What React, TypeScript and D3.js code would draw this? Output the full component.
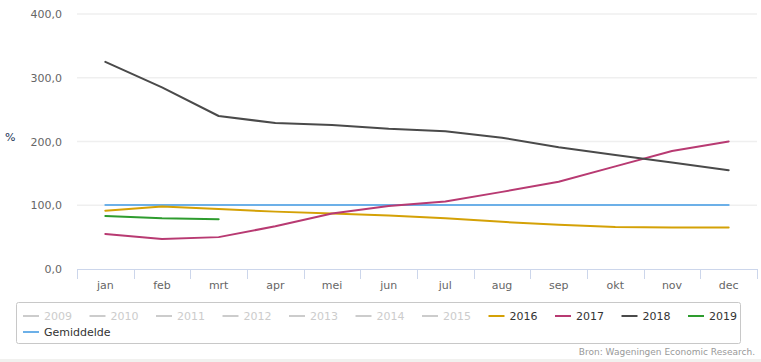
import React, { useEffect, useRef } from 'react';
import * as d3 from 'd3';

// Maanden (x-as)
const MONTHS = ['jan', 'feb', 'mrt', 'apr', 'mei', 'jun', 'jul', 'aug', 'sep', 'okt', 'nov', 'dec'];
const Y_TICKS = [0, 100, 200, 300, 400];

// Reeksen (% van gemiddelde)
const S2016 = [91.5, 98, 94, 90, 87, 84, 79.5, 74, 69.5, 66, 65, 65];
const S2017 = [55, 47, 50, 67, 87, 99, 106, 121, 137, 161, 185, 200];
const S2018 = [325, 285, 240, 229, 226, 220, 216, 206, 191, 179, 167, 155];
const S2019 = [83, 79.5, 78];
const GEMIDDELDE = [100.5, 100.5, 100.5, 100.5, 100.5, 100.5, 100.5, 100.5, 100.5, 100.5, 100.5, 100.5];

// Legenda
const HIDDEN_YEARS = ['2009', '2010', '2011', '2012', '2013', '2014', '2015'];
const SERIES = [
  { name: '2016', values: S2016, color: '#d4a106' },
  { name: '2017', values: S2017, color: '#b83a72' },
  { name: '2018', values: S2018, color: '#4a4a4a' },
  { name: '2019', values: S2019, color: '#2e9c2e' },
];
const AVG = { name: 'Gemiddelde', values: GEMIDDELDE, color: '#6cb0e8' };

const W = 761;
const H = 362;
const FONT = 'DejaVu Sans, Verdana, sans-serif';

export default function App() {
  const svgRef = useRef<SVGSVGElement>(null);

  useEffect(() => {
    if (!svgRef.current) return;
    const svg = d3.select(svgRef.current);
    svg.selectAll('*').remove();

    const plot = { left: 77, right: 757, top: 14, bottom: 269 };

    const x = d3.scaleBand<string>().domain(MONTHS).range([plot.left, plot.right]);
    const y = d3.scaleLinear().domain([0, 400]).range([plot.bottom, plot.top]);
    const cx = (i: number) => (x(MONTHS[i]) as number) + x.bandwidth() / 2;

    svg.append('rect').attr('width', W).attr('height', H).attr('fill', '#ffffff');
    svg.append('rect').attr('x', 0).attr('y', 359).attr('width', W).attr('height', 3).attr('fill', '#f1f1ef');

    // Rasterlijnen
    svg.append('g')
      .selectAll('line')
      .data(Y_TICKS.filter(d => d > 0))
      .enter()
      .append('line')
      .attr('x1', plot.left)
      .attr('x2', plot.right)
      .attr('y1', d => y(d))
      .attr('y2', d => y(d))
      .attr('stroke', '#efefef')
      .attr('stroke-width', 1.5);

    // Y-as labels
    svg.append('g')
      .selectAll('text')
      .data(Y_TICKS)
      .enter()
      .append('text')
      .attr('x', 62)
      .attr('y', d => y(d) + 4)
      .attr('text-anchor', 'end')
      .attr('fill', '#666666')
      .attr('font-size', '11px')
      .attr('font-family', FONT)
      .text(d => d3.format('.1f')(d).replace('.', ','));

    svg.append('text')
      .attr('x', 5)
      .attr('y', 141)
      .attr('fill', '#1d3557')
      .attr('font-size', '11px')
      .attr('font-family', FONT)
      .text('%');

    // X-as
    svg.append('line')
      .attr('x1', plot.left)
      .attr('x2', plot.right)
      .attr('y1', plot.bottom + 0.5)
      .attr('y2', plot.bottom + 0.5)
      .attr('stroke', '#ccd6eb');

    const tickX = MONTHS.map(m => x(m) as number).concat([plot.right]);
    svg.append('g')
      .selectAll('line')
      .data(tickX)
      .enter()
      .append('line')
      .attr('x1', d => Math.round(d) + 0.5)
      .attr('x2', d => Math.round(d) + 0.5)
      .attr('y1', plot.bottom)
      .attr('y2', plot.bottom + 10)
      .attr('stroke', '#ccd6eb');

    svg.append('g')
      .selectAll('text')
      .data(MONTHS)
      .enter()
      .append('text')
      .attr('x', (d, i) => cx(i))
      .attr('y', 289)
      .attr('text-anchor', 'middle')
      .attr('fill', '#666666')
      .attr('font-size', '11px')
      .attr('font-family', FONT)
      .text(d => d);

    // Lijnen
    const line = d3.line<number>()
      .x((d, i) => cx(i))
      .y(d => y(d));

    [AVG, ...SERIES].forEach(s => {
      svg.append('path')
        .datum(s.values)
        .attr('d', line)
        .attr('fill', 'none')
        .attr('stroke', s.color)
        .attr('stroke-width', 2)
        .attr('stroke-linejoin', 'round')
        .attr('stroke-linecap', 'round');
    });

    // Legenda
    svg.append('rect')
      .attr('x', 16.5)
      .attr('y', 302.5)
      .attr('width', 724)
      .attr('height', 41)
      .attr('rx', 2)
      .attr('fill', 'none')
      .attr('stroke', '#c8c8c8');

    const items = [
      ...HIDDEN_YEARS.map(n => ({ name: n, color: '#cccccc', text: '#cccccc' })),
      ...SERIES.map(s => ({ name: s.name, color: s.color, text: '#333333' })),
    ];
    const legend = svg.append('g');
    items.forEach((it, i) => {
      const lx = 23 + i * 66.5;
      const g = legend.append('g').attr('transform', `translate(${lx},316)`);
      g.append('line').attr('x1', 0).attr('x2', 16).attr('y1', 0).attr('y2', 0)
        .attr('stroke', it.color).attr('stroke-width', 2);
      g.append('text').attr('x', 21).attr('y', 4)
        .attr('fill', it.text).attr('font-size', '11px').attr('font-family', FONT)
        .text(it.name);
    });
    const ga = legend.append('g').attr('transform', 'translate(23,332)');
    ga.append('line').attr('x1', 0).attr('x2', 16).attr('y1', 0).attr('y2', 0)
      .attr('stroke', AVG.color).attr('stroke-width', 2);
    ga.append('text').attr('x', 21).attr('y', 4)
      .attr('fill', '#333333').attr('font-size', '11px').attr('font-family', FONT)
      .text(AVG.name);

    // Bron
    svg.append('text')
      .attr('x', 755)
      .attr('y', 355)
      .attr('text-anchor', 'end')
      .attr('fill', '#999999')
      .attr('font-size', '9px')
      .attr('font-family', FONT)
      .text('Bron: Wageningen Economic Research.');
  }, []);

  return (
    <svg
      ref={svgRef}
      width={W}
      height={H}
      style={{ position: 'absolute', left: 0, top: 0, display: 'block' }}
    />
  );
}
